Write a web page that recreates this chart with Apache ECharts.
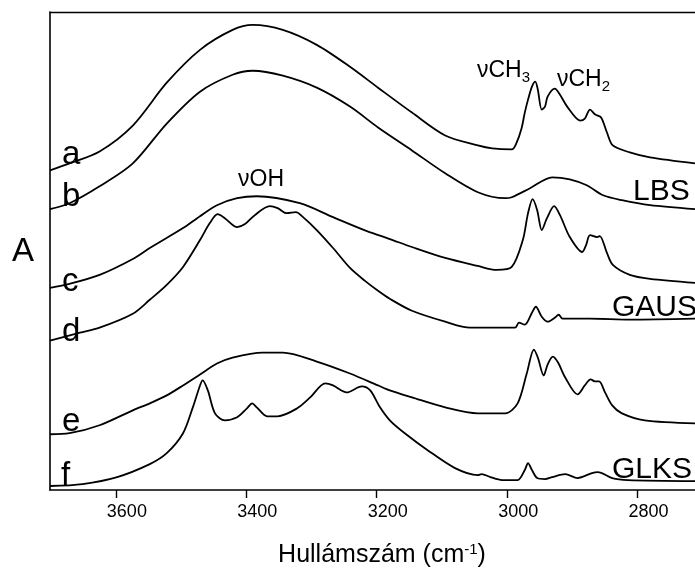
<!DOCTYPE html>
<html>
<head>
<meta charset="utf-8">
<script src="https://cdn.jsdelivr.net/npm/echarts@6/dist/echarts.min.js"></script>
<style>
  html, body { margin: 0; padding: 0; background: #fff; }
  #chart { width: 695px; height: 569px; }
</style>
</head>
<body>
<div id="chart"></div>
<script>
// FTIR spectra in the O-H / C-H stretching region, stacked (absorbance, arbitrary units with offsets)
const xTicks = [3600, 3400, 3200, 3000, 2800];

// spectrum a
const wnA  = [3701, 3671, 3625, 3574, 3522, 3471, 3421, 3390, 3344, 3292, 3241, 3198, 3146, 3095, 3045, 3023, 2993, 2986, 2978, 2973, 2968, 2962, 2957, 2953, 2947, 2942, 2938, 2927, 2919, 2908, 2888, 2881, 2873, 2865, 2856, 2847, 2838, 2812, 2781, 2712];
const absA = [3.21, 3.28, 3.40, 3.66, 4.09, 4.42, 4.62, 4.67, 4.62, 4.47, 4.25, 4.04, 3.79, 3.56, 3.46, 3.43, 3.42, 3.48, 3.63, 3.79, 3.92, 4.05, 4.10, 4.02, 3.82, 3.85, 3.95, 4.03, 3.97, 3.85, 3.71, 3.73, 3.82, 3.77, 3.74, 3.59, 3.46, 3.39, 3.34, 3.28];

// spectrum b (LBS)
const wnB  = [3701, 3671, 3625, 3574, 3522, 3471, 3421, 3390, 3344, 3292, 3241, 3198, 3146, 3095, 3045, 3003, 2993, 2965, 2931, 2904, 2878, 2853, 2824, 2781, 2712];
const absB = [2.82, 2.88, 3.05, 3.28, 3.68, 4.00, 4.17, 4.21, 4.16, 4.04, 3.85, 3.64, 3.41, 3.18, 2.99, 2.93, 2.94, 3.03, 3.14, 3.12, 3.06, 2.96, 2.91, 2.86, 2.82];

// spectrum c
const wnC  = [3701, 3671, 3625, 3574, 3548, 3497, 3471, 3445, 3414, 3384, 3318, 3267, 3215, 3180, 3146, 3095, 3045, 3016, 2993, 2976, 2968, 2961, 2954, 2947, 2939, 2928, 2919, 2904, 2885, 2879, 2873, 2862, 2858, 2847, 2838, 2812, 2781, 2712];
const absC = [2.03, 2.07, 2.16, 2.32, 2.43, 2.63, 2.75, 2.86, 2.93, 2.95, 2.88, 2.74, 2.60, 2.52, 2.44, 2.33, 2.25, 2.21, 2.24, 2.51, 2.78, 2.92, 2.81, 2.61, 2.73, 2.85, 2.76, 2.54, 2.39, 2.46, 2.56, 2.54, 2.55, 2.38, 2.26, 2.16, 2.12, 2.08];

// spectrum d (GAUS)
const wnD  = [3701, 3655, 3625, 3574, 3548, 3522, 3497, 3471, 3456, 3444, 3433, 3414, 3402, 3387, 3364, 3352, 3338, 3324, 3313, 3292, 3267, 3241, 3218, 3198, 3180, 3146, 3095, 3057, 2988, 2982, 2973, 2962, 2956, 2947, 2938, 2927, 2921, 2915, 2873, 2812, 2712];
const absD = [1.50, 1.58, 1.63, 1.77, 1.91, 2.06, 2.24, 2.51, 2.68, 2.77, 2.73, 2.64, 2.67, 2.76, 2.85, 2.83, 2.78, 2.79, 2.74, 2.61, 2.43, 2.23, 2.10, 2.00, 1.92, 1.80, 1.69, 1.63, 1.63, 1.68, 1.66, 1.78, 1.84, 1.74, 1.69, 1.73, 1.76, 1.72, 1.72, 1.71, 1.72];

// spectrum e
const wnE  = [3701, 3671, 3625, 3574, 3548, 3522, 3497, 3471, 3445, 3421, 3375, 3344, 3292, 3241, 3198, 3180, 3146, 3095, 3045, 3003, 2984, 2970, 2959, 2953, 2944, 2938, 2930, 2922, 2911, 2892, 2881, 2872, 2865, 2859, 2850, 2839, 2824, 2789, 2712];
const absE = [0.56, 0.57, 0.65, 0.80, 0.87, 0.95, 1.05, 1.16, 1.27, 1.33, 1.38, 1.38, 1.29, 1.17, 1.05, 1.00, 0.93, 0.83, 0.77, 0.77, 0.87, 1.17, 1.41, 1.33, 1.15, 1.26, 1.34, 1.28, 1.13, 0.96, 1.05, 1.11, 1.09, 1.09, 0.98, 0.85, 0.77, 0.70, 0.67];

// spectrum f (GLKS)
const wnF  = [3701, 3651, 3598, 3548, 3522, 3497, 3482, 3471, 3467, 3459, 3448, 3433, 3414, 3399, 3391, 3384, 3368, 3352, 3322, 3302, 3279, 3267, 3246, 3223, 3210, 3195, 3180, 3157, 3122, 3080, 3045, 3039, 3026, 3008, 2984, 2973, 2968, 2962, 2954, 2942, 2931, 2911, 2892, 2870, 2861, 2839, 2815, 2712];
const absF = [0.04, 0.06, 0.13, 0.26, 0.37, 0.57, 0.83, 1.05, 1.10, 1.00, 0.77, 0.70, 0.73, 0.82, 0.87, 0.83, 0.74, 0.74, 0.82, 0.93, 1.07, 1.05, 0.98, 1.04, 1.00, 0.83, 0.70, 0.57, 0.40, 0.22, 0.15, 0.16, 0.13, 0.10, 0.10, 0.20, 0.27, 0.20, 0.12, 0.11, 0.13, 0.16, 0.12, 0.17, 0.18, 0.12, 0.10, 0.09];

const spectra = [
  { name: 'a', wn: wnA, abs: absA },
  { name: 'b', wn: wnB, abs: absB },
  { name: 'c', wn: wnC, abs: absC },
  { name: 'd', wn: wnD, abs: absD },
  { name: 'e', wn: wnE, abs: absE },
  { name: 'f', wn: wnF, abs: absF }
];

const FONT = '"Liberation Sans", Arial, Helvetica, sans-serif';
const INK = '#000';

const chart = echarts.init(document.getElementById('chart'), null, { renderer: 'canvas' });

function label(text, x, y, size, align) {
  return {
    type: 'text', x: x, y: y, silent: true,
    style: { text: text, fill: INK, font: size + 'px ' + FONT, align: align || 'left', verticalAlign: 'middle' }
  };
}

function richLabel(text, x, y, rich, align) {
  return {
    type: 'text', x: x, y: y, silent: true,
    style: { text: text, rich: rich, fill: INK, fontFamily: FONT, align: align || 'left', verticalAlign: 'middle' }
  };
}

const option = {
  animation: false,
  backgroundColor: '#fff',
  grid: { left: 50, right: 0, top: 12, bottom: 79, containLabel: false },
  xAxis: [
    {
      type: 'value', position: 'bottom', inverse: true, min: 2712, max: 3701,
      axisLine: { show: true, lineStyle: { color: INK, width: 1.6 } },
      axisTick: { show: true, inside: false, length: 8, lineStyle: { color: INK, width: 1.4 }, customValues: xTicks },
      axisLabel: {
        show: true, margin: 13, color: INK, fontSize: 18, fontFamily: FONT,
        padding: [0, 0, 0, 22],
        customValues: xTicks,
        formatter: v => String(v)
      },
      splitLine: { show: false }
    },
    {
      type: 'value', position: 'top', inverse: true, min: 2712, max: 3701,
      axisLine: { show: true, lineStyle: { color: INK, width: 1.4 } },
      axisTick: { show: false }, axisLabel: { show: false }, splitLine: { show: false }
    }
  ],
  yAxis: {
    type: 'value', min: 0, max: 4.8,
    axisLine: { show: true, lineStyle: { color: INK, width: 1.6 } },
    axisTick: { show: false }, axisLabel: { show: false }, splitLine: { show: false }
  },
  series: spectra.map(s => ({
    name: s.name,
    type: 'line',
    xAxisIndex: 0,
    data: s.wn.map((w, i) => [w, s.abs[i]]),
    showSymbol: false,
    smooth: 0.3,
    lineStyle: { color: INK, width: 1.8 },
    emphasis: { disabled: true }
  })),
  graphic: [
    // y axis title
    label('A', 12, 252, 33),
    // spectrum letters
    label('a', 62, 155, 33),
    label('b', 62, 197, 33),
    label('c', 62, 282, 33),
    label('d', 62, 332, 33),
    label('e', 62, 422, 33),
    label('f', 61, 476, 33),
    // sample names
    label('LBS', 633, 192, 30),
    label('GAUS', 612, 308, 30),
    label('GLKS', 612, 470, 30),
    // band assignments
    label('\u03BDOH', 238, 180, 23),
    richLabel('{m|\u03BDCH}{s|3}', 477, 71, {
      m: { fontSize: 23, lineHeight: 28, fontFamily: FONT, fill: INK },
      s: { fontSize: 15, lineHeight: 15, fontFamily: FONT, fill: INK, verticalAlign: 'bottom' }
    }),
    richLabel('{m|\u03BDCH}{s|2}', 557, 80, {
      m: { fontSize: 23, lineHeight: 28, fontFamily: FONT, fill: INK },
      s: { fontSize: 15, lineHeight: 15, fontFamily: FONT, fill: INK, verticalAlign: 'bottom' }
    }),
    // x axis title
    richLabel('{m|Hullámszám (cm}{s|-1}{m|)}', 382, 555, {
      m: { fontSize: 25, lineHeight: 26, fontFamily: FONT, fill: INK },
      s: { fontSize: 15, lineHeight: 15, fontFamily: FONT, fill: INK, verticalAlign: 'top' }
    }, 'center')
  ]
};

chart.setOption(option);
</script>
</body>
</html>
